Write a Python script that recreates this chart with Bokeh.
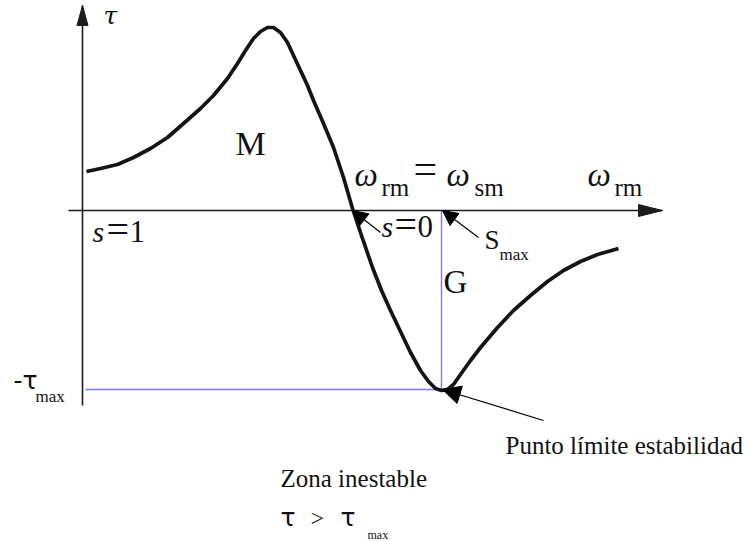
from bokeh.plotting import figure
from bokeh.models import Range1d, Arrow, NormalHead
from bokeh.core.properties import value
from bokeh.embed import file_html
from bokeh.resources import INLINE

# Torque-speed characteristic of an induction machine (speed measured from s=1)
speed = [4, 18, 35, 51, 68, 85, 101, 118, 131, 145, 155, 163, 171, 178, 185, 191,
         198, 205, 211, 218, 225, 231, 241, 251, 261, 270, 280, 290, 299, 308,
         318, 328, 338, 346, 353, 359, 365, 371, 378, 388, 398, 415, 431, 448,
         465, 481, 498, 515, 536]
torque = [39, 42, 46, 53, 62, 73, 87, 102, 115, 132, 147, 160, 172, 179, 183, 183,
          178, 168, 155, 140, 125, 110, 87, 63, 33, 2, -28, -57, -80, -100,
          -121, -142, -160, -171, -178, -180, -179, -174, -164, -150, -137, -117, -100, -85,
          -71, -60, -51, -44, -38]

# Pull-out point (generator side)
s_max_speed = 359
tau_max = -179

FONT_SERIF = value("Liberation Serif")
FONT_SANS = value("DejaVu Sans")
INK = "#1c1c1c"

p = figure(width=749, height=542, output_backend="svg", toolbar_location=None,
           x_range=Range1d(-82, 667), y_range=Range1d(-332, 210),
           min_border=0, outline_line_color=None)
p.axis.visible = False
p.grid.visible = False
p.background_fill_color = "white"

# Reference lines to the pull-out point
p.line([3, s_max_speed], [tau_max, tau_max], line_color="#7a7aff", line_width=1.4)
p.line([s_max_speed, s_max_speed], [0, tau_max], line_color="#7a7aff", line_width=1.4)

# Axes, each ending in a slim filled arrowhead
def axis_line(x0, y0, x1, y1, head_len, head_w):
    p.line([x0, x1], [y0, y1], line_color=INK, line_width=1.6)
    dx, dy = x1 - x0, y1 - y0
    n = (dx * dx + dy * dy) ** 0.5
    ux, uy = dx / n, dy / n
    bx, by = x1 - ux * head_len, y1 - uy * head_len
    px_, py_ = -uy * head_w / 2, ux * head_w / 2
    p.patch([x1, bx + px_, bx - px_], [y1, by + py_, by - py_],
            fill_color=INK, line_color=INK, line_width=1)

axis_line(-14, 0, 580, 0, 24, 12)
axis_line(0, -195, 0, 205, 20, 11)

# Characteristic curve
p.line(speed, torque, line_color="#141414", line_width=3.7, line_join="round")

# Pointer arrows
def pointer(x0, y0, x1, y1, size=15):
    p.add_layout(Arrow(x_start=x0, y_start=y0, x_end=x1, y_end=y1, line_width=1.2,
                       line_color="black",
                       end=NormalHead(size=size, fill_color="black", line_color="black")))

pointer(298, -22, 270, 0)
pointer(396, -27, 360, 0)
pointer(461, -210, 360, -179, size=18)

def label(x, y, txt, size, font=FONT_SERIF, style="normal"):
    # shift so that y is where the glyphs sit on their baseline
    p.text(x=[x], y=[y + 0.37 * size + 1], text=[txt], text_font=font,
           text_font_size=f"{size}px", text_font_style=style, text_align="left",
           text_baseline="alphabetic", text_color="#111111")

label(21, 185, "τ", 25, font=value("DejaVu Serif"), style="italic")
label(153, 53, "M", 34)

label(272, 22, "ω", 33, style="italic")
label(299, 13, "rm", 25)
label(331, 25, "=", 42)
label(364, 22, "ω", 33, style="italic")
label(392, 13, "sm", 25)
label(505, 22, "ω", 33, style="italic")
label(532, 13, "rm", 25)

label(10, -33, "s", 30, style="italic")
label(24, -35, "=", 40)
label(47, -33, "1", 31)
label(299, -28, "s", 30, style="italic")
label(312, -30, "=", 40)
label(335, -28, "0", 31)

label(402, -40, "S", 27)
label(417, -51, "max", 17)
label(361, -85, "G", 33)
label(-69, -180, "-τ", 25, font=FONT_SANS)
label(-47, -193, "max", 17)

label(423, -245, "Punto límite estabilidad", 25)
label(198, -278, "Zona inestable", 25)
label(198, -317, "τ", 25, font=FONT_SANS)
label(228, -317, ">", 24)
label(258, -317, "τ", 25, font=FONT_SANS)
label(285, -330, "max", 12)

open("out.html", "w").write(file_html(p, INLINE))
